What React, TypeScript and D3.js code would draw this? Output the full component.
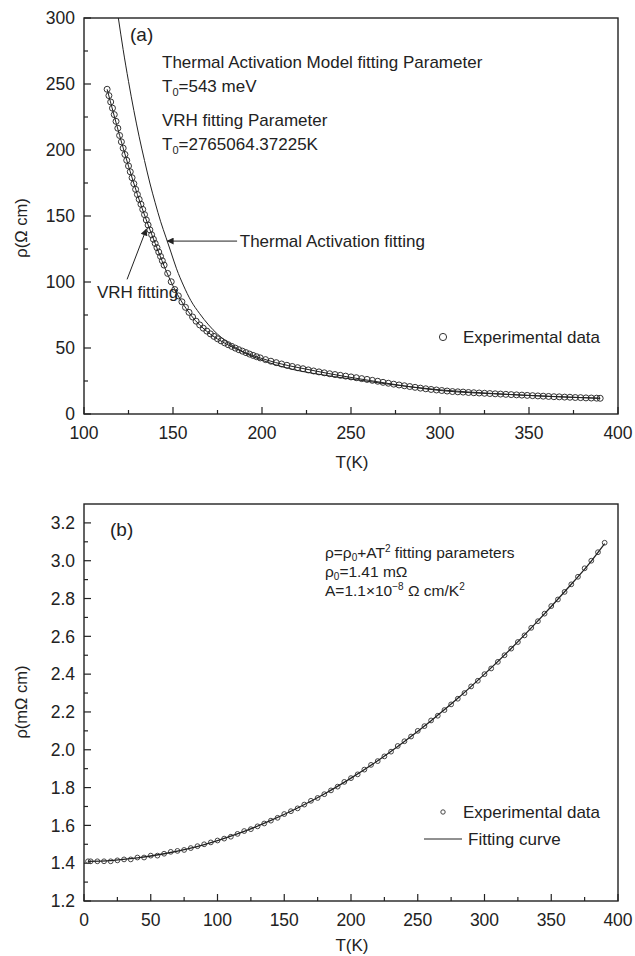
import React from 'react';
import * as d3 from 'd3';

const WIDTH = 635;
const HEIGHT = 956;
const FONT = "'Liberation Sans', Arial, Helvetica, sans-serif";
const INK = "#222";

// panel (a): resistivity (ohm cm) vs T (K)
const A_T = [
  113, 114, 115, 116, 117, 118, 119, 120, 121, 122, 123, 124, 125, 126, 127, 128, 129, 130,
  131, 132, 133, 134, 135, 136, 137, 138, 139, 140, 141, 142, 143, 144, 145,
  147, 149, 151, 153, 155, 157, 159, 161, 163, 165, 167, 169, 171, 173, 175, 177, 179,
  181, 183, 185, 187, 189, 191, 193, 195, 197, 199,
  202, 205, 208, 211, 214, 217, 220, 223, 226, 229, 232, 235, 238, 241, 244, 247, 250,
  253, 256, 259, 262, 265, 268, 271, 274, 277, 280, 283, 286, 289, 292, 295, 298, 301,
  304, 307, 310, 313, 316, 319, 322, 325, 328, 331, 334, 337, 340, 343, 346, 349, 352,
  355, 358, 361, 364, 367, 370, 373, 376, 379, 382, 385, 388, 390,
];
const A_RHO = [
  246, 241.2, 236.4, 231.7, 226.8, 221.7, 216.5, 211, 206.2, 201.4, 196.6, 192.2, 187.9, 183.5, 179, 174.5, 170.2, 166.3,
  162.6, 158.9, 155, 151, 147, 143.2, 139.5, 135.8, 132.4, 129.2, 126, 122.7, 119.4, 116.1, 112.8,
  106.5, 100.2, 94.3, 89.5, 85, 80.8, 77, 73.5, 70.3, 67.5, 65, 62.8, 60.7, 58.8, 57, 55.4, 53.9,
  52.5, 51.2, 49.9, 48.7, 47.6, 46.5, 45.4, 44.4, 43.4, 42.5,
  41.2, 40, 38.9, 37.9, 36.9, 36, 35.1, 34.3, 33.4, 32.6, 31.9, 31.2, 30.5, 29.9, 29.3, 28.7, 28.1,
  27.5, 26.8, 26.2, 25.5, 24.8, 24, 23.3, 22.6, 22, 21.4, 20.8, 20.2, 19.6, 19.1, 18.6, 18.2, 17.8,
  17.4, 17, 16.8, 16.6, 16.3, 16.1, 15.9, 15.7, 15.5, 15.3, 15.1, 14.9, 14.7, 14.5, 14.3, 14.1, 13.9,
  13.7, 13.5, 13.3, 13.1, 13, 12.8, 12.7, 12.5, 12.4, 12.2, 12.1, 12, 11.9,
];
const THERMAL_T = [119.3, 122, 125, 128, 131, 134, 137, 140, 143, 146, 149, 152, 156, 160, 165, 170, 175, 180, 190, 200, 215, 230, 250, 270, 300, 330, 360, 390];
const THERMAL_RHO = [300, 276, 252, 230, 210, 192, 175, 160, 146, 134, 122, 110, 97, 86, 76, 67.5, 60.5, 55, 46.5, 40.8, 34.5, 30.5, 26.5, 22.8, 18.3, 15.5, 13.4, 11.9];
const VRH_T = [113, 120, 130, 140, 150, 160, 170, 180, 200, 230, 260, 300, 340, 390];
const VRH_RHO = [246, 211, 166.3, 129.2, 97, 75, 61.5, 53, 42, 32.6, 25.5, 17.8, 14.7, 11.9];

const A_X_TICKS = [100, 150, 200, 250, 300, 350, 400];
const A_X_MINOR = [125, 175, 225, 275, 325, 375];
const A_Y_TICKS = [0, 50, 100, 150, 200, 250, 300];
const A_Y_MINOR = [25, 75, 125, 175, 225, 275];

// panel (b): resistivity (mOhm cm) vs T (K)
const B_T = [
  3, 5, 10, 15, 20, 25, 30, 35, 40, 45, 50, 55, 60, 65, 70, 75, 80, 85, 90, 95, 100,
  105, 110, 115, 120, 125, 130, 135, 140, 145, 150, 155, 160, 165, 170, 175, 180, 185, 190, 195, 200,
  205, 210, 215, 220, 225, 230, 235, 240, 245, 250, 255, 260, 265, 270, 275, 280, 285, 290, 295, 300,
  305, 310, 315, 320, 325, 330, 335, 340, 345, 350, 355, 360, 365, 370, 375, 380, 385, 390,
];
const B_RHO = [
  1.41, 1.41, 1.41, 1.41, 1.41, 1.415, 1.42, 1.42, 1.43, 1.43, 1.44, 1.44, 1.45, 1.46, 1.465, 1.47, 1.48, 1.49, 1.5, 1.51, 1.52,
  1.53, 1.54, 1.555, 1.57, 1.58, 1.595, 1.61, 1.625, 1.64, 1.66, 1.675, 1.69, 1.71, 1.73, 1.745, 1.765, 1.785, 1.805, 1.83, 1.85,
  1.87, 1.895, 1.92, 1.94, 1.965, 1.99, 2.02, 2.045, 2.07, 2.1, 2.125, 2.155, 2.18, 2.21, 2.24, 2.27, 2.3, 2.335, 2.365, 2.4,
  2.43, 2.465, 2.5, 2.535, 2.57, 2.605, 2.645, 2.68, 2.72, 2.76, 2.795, 2.835, 2.875, 2.915, 2.96, 3, 3.045, 3.095,
];
const FIT_T = [3, 20, 40, 60, 80, 100, 120, 140, 160, 180, 200, 220, 240, 260, 280, 300, 320, 340, 360, 380, 390];
const FIT_RHO = [1.41, 1.414, 1.428, 1.45, 1.48, 1.52, 1.568, 1.626, 1.692, 1.766, 1.85, 1.942, 2.044, 2.154, 2.272, 2.4, 2.536, 2.682, 2.836, 2.998, 3.09];

const B_X_TICKS = [0, 50, 100, 150, 200, 250, 300, 350, 400];
const B_X_MINOR = [25, 75, 125, 175, 225, 275, 325, 375];
const B_Y_TICKS = [1.2, 1.4, 1.6, 1.8, 2.0, 2.2, 2.4, 2.6, 2.8, 3.0, 3.2];
const B_Y_MINOR = [1.3, 1.5, 1.7, 1.9, 2.1, 2.3, 2.5, 2.7, 2.9, 3.1];

const LEFT = 84;
const RIGHT = 618;

type Scale = d3.ScaleLinear<number, number>;

function Frame({ x, y, xTicks, xMinor, yTicks, yMinor, yFormat }: {
  x: Scale; y: Scale; xTicks: number[]; xMinor: number[]; yTicks: number[]; yMinor: number[]; yFormat: (v: number) => string;
}) {
  const [x0, x1] = x.range();
  const [y0, y1] = y.range();
  return (
    <g>
      <rect x={x0} y={y1} width={x1 - x0} height={y0 - y1} fill="none" stroke={INK} strokeWidth={1.4} />
      {xTicks.map(t => (
        <g key={"xt" + t}>
          <line x1={x(t)} x2={x(t)} y1={y0} y2={y0 - 7} stroke={INK} strokeWidth={1.2} />
          <text x={x(t)} y={y0 + 25} textAnchor="middle" fontSize={17.5} fill={INK}>{t}</text>
        </g>
      ))}
      {xMinor.map(t => (
        <line key={"xm" + t} x1={x(t)} x2={x(t)} y1={y0} y2={y0 - 4} stroke={INK} strokeWidth={1.2} />
      ))}
      {yTicks.map(t => (
        <g key={"yt" + t}>
          <line x1={x0} x2={x0 + 7} y1={y(t)} y2={y(t)} stroke={INK} strokeWidth={1.2} />
          <text x={x0 - 9} y={y(t)} dy="0.36em" textAnchor="end" fontSize={17.5} fill={INK}>{yFormat(t)}</text>
        </g>
      ))}
      {yMinor.map(t => (
        <line key={"ym" + t} x1={x0} x2={x0 + 4} y1={y(t)} y2={y(t)} stroke={INK} strokeWidth={1.2} />
      ))}
    </g>
  );
}

export default function App() {
  const xa = d3.scaleLinear().domain([100, 400]).range([LEFT, RIGHT]);
  const ya = d3.scaleLinear().domain([0, 300]).range([414, 18]);
  const xb = d3.scaleLinear().domain([0, 400]).range([LEFT, RIGHT]);
  const yb = d3.scaleLinear().domain([1.2, 3.3]).range([901, 504]);

  const lineA = d3.line<number>().x((_, i) => xa(THERMAL_T[i])).y(d => ya(d)).curve(d3.curveMonotoneX);
  const lineV = d3.line<number>().x((_, i) => xa(VRH_T[i])).y(d => ya(d)).curve(d3.curveMonotoneX);
  const lineF = d3.line<number>().x((_, i) => xb(FIT_T[i])).y(d => yb(d)).curve(d3.curveMonotoneX);

  const sub = { fontSize: 11, dy: 4 };
  const subB = { fontSize: 10, dy: 3 };

  return (
    <svg width={WIDTH} height={HEIGHT} style={{ position: "absolute", left: 0, top: 0, background: "#fff" }}
      fontFamily={FONT}>
      <defs>
        <clipPath id="clipA"><rect x={LEFT} y={18} width={RIGHT - LEFT} height={396} /></clipPath>
        <marker id="arrow" viewBox="0 0 10 10" refX="9" refY="5" markerWidth="9" markerHeight="7"
          markerUnits="userSpaceOnUse" orient="auto">
          <path d="M0,0 L10,5 L0,10 z" fill={INK} />
        </marker>
      </defs>

      {/* ---- panel (a) ---- */}
      <Frame x={xa} y={ya} xTicks={A_X_TICKS} xMinor={A_X_MINOR} yTicks={A_Y_TICKS} yMinor={A_Y_MINOR} yFormat={d3.format("d")} />
      <g clipPath="url(#clipA)">
        {A_RHO.map((d, i) => (
          <circle key={i} cx={xa(A_T[i])} cy={ya(d)} r={3} fill="none" stroke="#333" strokeWidth={1} />
        ))}
        <path d={lineV(VRH_RHO) || ""} fill="none" stroke={INK} strokeWidth={1} />
        <path d={lineA(THERMAL_RHO) || ""} fill="none" stroke={INK} strokeWidth={1} />
      </g>
      <text x={130} y={41} fontSize={19} fill={INK}>(a)</text>
      <g fontSize={17} fill={INK}>
        <text x={162} y={68}>Thermal Activation Model fitting Parameter</text>
        <text x={162} y={92}>T<tspan {...sub}>0</tspan><tspan dy={-4}>=543 meV</tspan></text>
        <text x={162} y={126}>VRH fitting Parameter</text>
        <text x={162} y={150}>T<tspan {...sub}>0</tspan><tspan dy={-4}>=2765064.37225K</tspan></text>
        <text x={xa(187.5)} y={ya(131) + 6}>Thermal Activation fitting</text>
        <text x={97} y={ya(88)}>VRH fitting</text>
      </g>
      <line x1={xa(186)} y1={ya(131)} x2={xa(146.8)} y2={ya(131)} stroke={INK} strokeWidth={1} markerEnd="url(#arrow)" />
      <line x1={xa(124.2)} y1={ya(102)} x2={xa(135)} y2={ya(140)} stroke={INK} strokeWidth={1} markerEnd="url(#arrow)" />
      <circle cx={443} cy={337} r={3.6} fill="none" stroke="#333" strokeWidth={1} />
      <text x={463} y={343} fontSize={17} fill={INK}>Experimental data</text>
      <text x={352} y={468} textAnchor="middle" fontSize={17} fill={INK}>T(K)</text>
      <text transform={`translate(27,${228}) rotate(-90)`} textAnchor="middle" fontSize={16.5} fill={INK}>ρ(Ω cm)</text>

      {/* ---- panel (b) ---- */}
      <Frame x={xb} y={yb} xTicks={B_X_TICKS} xMinor={B_X_MINOR} yTicks={B_Y_TICKS} yMinor={B_Y_MINOR} yFormat={d3.format(".1f")} />
      {B_RHO.map((d, i) => (
        <circle key={i} cx={xb(B_T[i])} cy={yb(d)} r={2.4} fill="none" stroke="#444" strokeWidth={1} />
      ))}
      <path d={lineF(FIT_RHO) || ""} fill="none" stroke={INK} strokeWidth={1.3} />
      <text x={110} y={536} fontSize={19} fill={INK}>(b)</text>
      <g fontSize={15.5} fill={INK}>
        <text x={325} y={558}>ρ=ρ<tspan {...subB}>0</tspan><tspan dy={-3}>+AT</tspan><tspan fontSize={10} dy={-6}>2</tspan><tspan dy={6}> fitting parameters</tspan></text>
        <text x={325} y={577}>ρ<tspan {...subB}>0</tspan><tspan dy={-3}>=1.41 mΩ</tspan></text>
        <text x={325} y={596}>A=1.1×10<tspan fontSize={10} dy={-6}>−8</tspan><tspan dy={6}> Ω cm/K</tspan><tspan fontSize={10} dy={-6}>2</tspan></text>
      </g>
      <circle cx={443} cy={812} r={2.2} fill="none" stroke="#444" strokeWidth={1} />
      <text x={463} y={818} fontSize={17} fill={INK}>Experimental data</text>
      <line x1={424} x2={462} y1={839} y2={839} stroke={INK} strokeWidth={1} />
      <text x={468} y={845} fontSize={17} fill={INK}>Fitting curve</text>
      <text x={352} y={951} textAnchor="middle" fontSize={17} fill={INK}>T(K)</text>
      <text transform={`translate(27,${702}) rotate(-90)`} textAnchor="middle" fontSize={16.5} fill={INK}>ρ(mΩ cm)</text>
    </svg>
  );
}
